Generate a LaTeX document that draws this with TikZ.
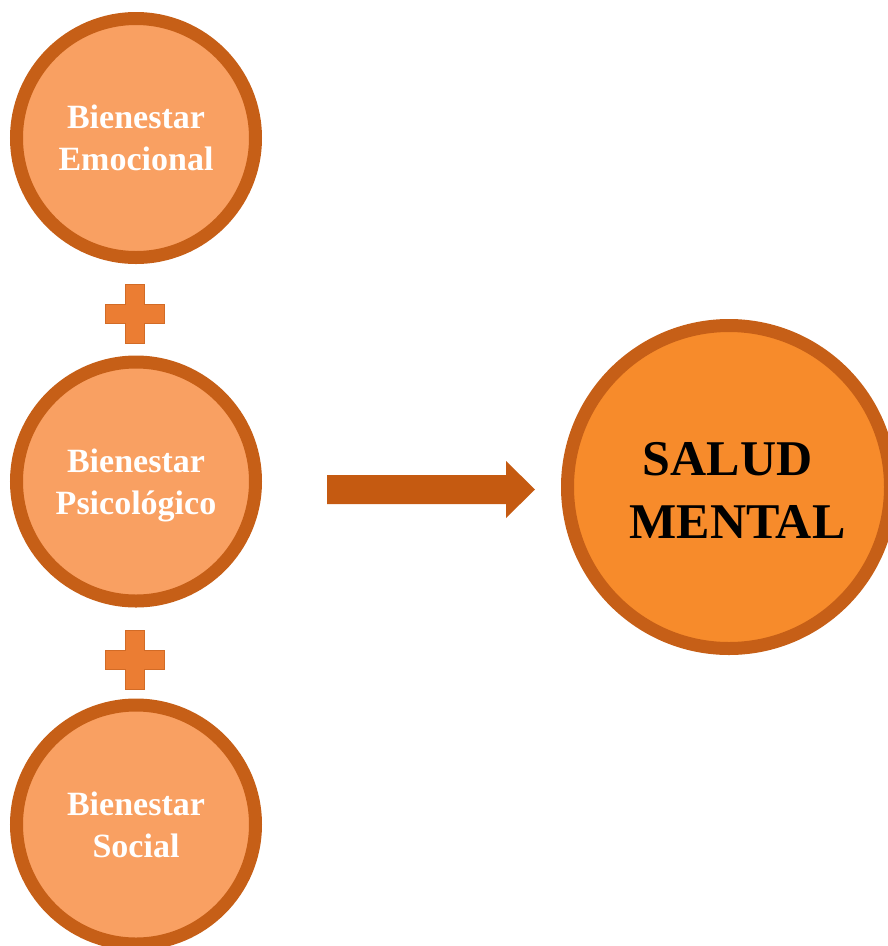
\documentclass[tikz,border=0pt]{standalone}
\usepackage{fontspec}
\setmainfont{Liberation Serif}
\usetikzlibrary{calc}

\definecolor{rim}{HTML}{C65F17}
\definecolor{softorange}{HTML}{F9A062}
\definecolor{strongorange}{HTML}{F78B2B}
\definecolor{plusfill}{HTML}{EB7D33}
\definecolor{plusedge}{HTML}{D26B26}
\definecolor{arrowfill}{HTML}{C55A11}

\tikzset{
  wellbeing/.style={circle, draw=rim, line width=13pt, fill=softorange,
    minimum size=239pt, inner sep=0pt, text=white, align=center,
    text depth=0pt, font=\fontsize{34}{42}\selectfont\bfseries},
  outcome/.style={circle, draw=rim, line width=13pt, fill=strongorange,
    minimum size=323pt, inner sep=0pt, text=black, align=center,
    text depth=0pt, font=\fontsize{50}{63}\selectfont\bfseries},
  plus sign/.pic={
    \filldraw[fill=plusfill, draw=plusedge, line width=0.8pt]
      (-9.5,-29.5) -- (9.5,-29.5) -- (9.5,-9.5) -- (29.5,-9.5) -- (29.5,9.5)
      -- (9.5,9.5) -- (9.5,29.5) -- (-9.5,29.5) -- (-9.5,9.5) -- (-29.5,9.5)
      -- (-29.5,-9.5) -- (-9.5,-9.5) -- cycle;
  }
}

\begin{document}
\begin{tikzpicture}[x=1pt,y=-1pt]
  \useasboundingbox (0,0) rectangle (888,946);
  \clip (0,0) rectangle (888,946);

  % three components of well-being
  \node[wellbeing] (emo) at (136,138) {Bienestar\\Emocional};
  \node[wellbeing] (psi) at (136,481.5) {Bienestar\\Psicológico};
  \node[wellbeing] (soc) at (136,824.5) {Bienestar\\Social};

  % plus signs between the circles
  \pic at (135,314) {plus sign};
  \pic at (135,659.5) {plus sign};

  % result
  \node[outcome] (salud) at (729,487) {};
  \node[font=\fontsize{50}{63}\selectfont\bfseries, align=center,
        text depth=0pt, inner sep=0pt] (saludtext) at (727.5,490)
        {SALUD\\\hspace*{20pt}MENTAL};

  % block arrow towards the result
  \coordinate (arrtail) at (327,489.5);
  \coordinate (arrtip) at (535,489.5);
  \fill[arrowfill]
    ($(arrtail)+(0,-14.5)$) -- (506,475) -- (506,461) -- (arrtip)
    -- (506,518) -- (506,504) -- ($(arrtail)+(0,14.5)$) -- cycle;
\end{tikzpicture}
\end{document}
